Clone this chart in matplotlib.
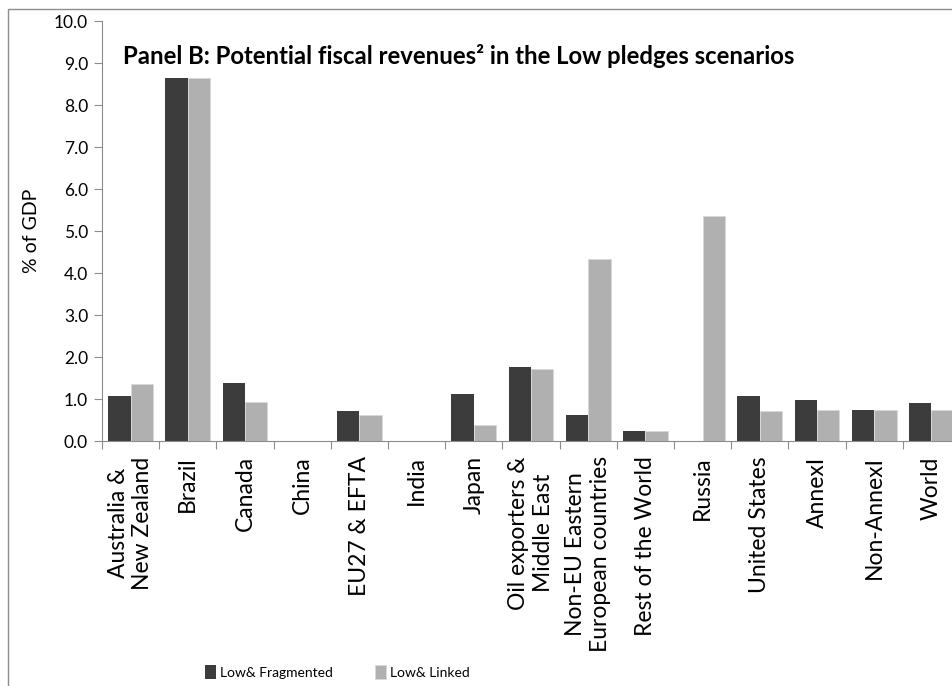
import matplotlib.pyplot as plt
import numpy as np
from matplotlib.patches import Rectangle

# data
regions = ['Australia &\nNew Zealand', 'Brazil', 'Canada', 'China', 'EU27 & EFTA',
           'India', 'Japan', 'Oil exporters &\nMiddle East', 'Non-EU Eastern\nEuropean countries',
           'Rest of the World', 'Russia', 'United States', 'AnnexI', 'Non-AnnexI', 'World']
low_fragmented = [1.07, 8.64, 1.38, 0.0, 0.72, 0.0, 1.13, 1.77, 0.61, 0.24, 0.0, 1.07, 0.97, 0.75, 0.90]
low_linked = [1.35, 8.64, 0.92, 0.0, 0.61, 0.0, 0.37, 1.72, 4.33, 0.24, 5.36, 0.71, 0.75, 0.75, 0.75]
yticks = np.arange(0, 10.1, 1.0)

W, H = 953, 686
fig = plt.figure(figsize=(W/100, H/100), dpi=100)
# outer frame like the excel chart area (only top and left edges fall inside the image)
fig.patches.append(Rectangle((8/W, -0.05), 1.1, 1 - 9/H + 0.05, transform=fig.transFigure,
                             fill=False, edgecolor='#8c8c8c', linewidth=1.0))

ax = fig.add_axes([102/W, 1 - 441/H, 858/W, 420/H])

x = np.arange(len(regions))
bw = 0.39
ax.bar(x - bw/2, low_fragmented, bw, color='#3c3c3c', label='Low& Fragmented')
ax.bar(x + bw/2, low_linked, bw, color='#b0b0b0', edgecolor='#d8d8d8', linewidth=0.5,
       label='Low& Linked')

ax.set_xlim(-0.5, len(regions) - 0.5)
ax.set_ylim(0, 10)
ax.set_yticks(yticks)
ax.set_yticklabels(['%.1f' % v for v in yticks], fontsize=12.5, family='Lato')
ax.set_xticks(np.arange(-0.5, len(regions), 1.0))
ax.set_xticklabels([])
ax.set_xticks(x, minor=True)
ax.set_xticklabels(regions, minor=True, rotation=90, fontsize=16.5, family='Lato',
                   va='top', ha='center', multialignment='center', linespacing=1.2)
ax.tick_params(axis='x', which='minor', length=0, pad=11)
ax.tick_params(axis='x', which='major', length=6, color='#8c8c8c', direction='out')
ax.tick_params(axis='y', length=6, color='#8c8c8c', direction='out', pad=4)

for s in ['top', 'right']:
    ax.spines[s].set_visible(False)
ax.spines['left'].set_color('#8c8c8c')
ax.spines['bottom'].set_color('#8c8c8c')

ax.set_ylabel('% of GDP', fontsize=14, family='Lato', labelpad=10)
ax.text(0.024, 0.945, 'Panel B: Potential fiscal revenues\u00b2 in the Low pledges scenarios',
        transform=ax.transAxes, fontsize=17.2, fontweight='bold', family='Lato', va='top')

fig.legend(loc='center', bbox_to_anchor=(0.354, 1 - 672/H), ncol=2, frameon=False,
           handlelength=0.8, handleheight=1.1, handletextpad=0.3, columnspacing=3.0,
           prop={'family': 'Lato', 'size': 10})

fig.savefig('out.png', dpi=100)
